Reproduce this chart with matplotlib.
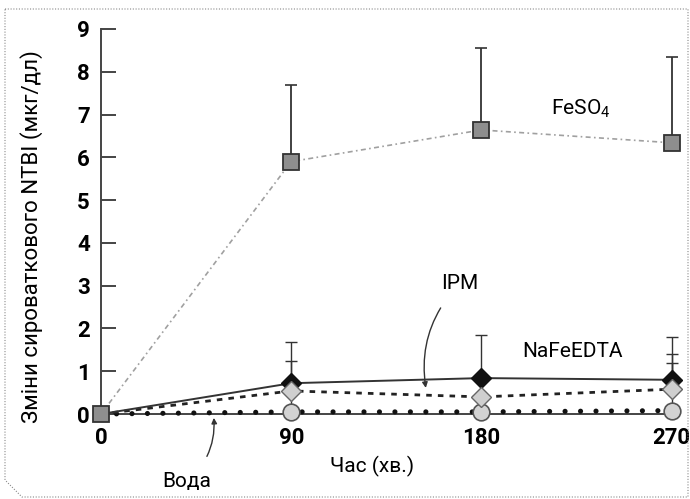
import matplotlib
matplotlib.use("Agg")
import matplotlib.pyplot as plt
from matplotlib.patches import Polygon
import numpy as np

plt.rcParams['font.family'] = ['Roboto', 'DejaVu Sans']
plt.rcParams['font.stretch'] = 'condensed'
plt.rcParams['mathtext.default'] = 'regular'

# дані
time = [0, 90, 180, 270]
feso4 = [0, 5.9, 6.64, 6.34]
feso4_top = [0, 7.7, 8.55, 8.34]
nafeedta = [0, 0.72, 0.84, 0.8]
nafeedta_top = [0, 1.69, 1.85, 1.79]
ipm = [0, 0.54, 0.4, 0.58]
ipm_top = [0, 1.23, 0.4, 1.41]
water = [0, 0.05, 0.05, 0.08]
water_top = [0, 0.5, 0.4, 1.2]
yticks = [0, 1, 2, 3, 4, 5, 6, 7, 8, 9]


def upper_err(vals, tops):
    vals = np.array(vals)
    return [np.zeros_like(vals), np.array(tops) - vals]


fig = plt.figure(figsize=(6.9, 4.99), dpi=100)
ax = fig.add_axes([0.1464, 0.1703, 0.8391, 0.7716])

ecol = '#333333'

# вода
ax.errorbar(time, water, yerr=upper_err(water, water_top), fmt='none',
            ecolor=ecol, elinewidth=1.0, capsize=4.5, capthick=1.0, zorder=2, clip_on=False)
ax.plot(time, water, color='#111111', linestyle=(0, (0.01, 3.0)), linewidth=3.7,
        dash_capstyle='round', zorder=3, clip_on=False)
ax.plot(time[1:], water[1:], 'o', color='#d3d3d3', markeredgecolor='#555555',
        markersize=12, markeredgewidth=1.2, zorder=6, clip_on=False)

# IPM
ax.errorbar(time, ipm, yerr=upper_err(ipm, ipm_top), fmt='none',
            ecolor=ecol, elinewidth=1.0, capsize=4.5, capthick=1.0, zorder=2, clip_on=False)
ax.plot(time, ipm, color='#222222', linestyle=(0, (2, 2.2)), linewidth=2.0,
        zorder=3, clip_on=False)
ax.plot(time[1:], ipm[1:], 'D', color='#cfcfcf', markeredgecolor='#666666',
        markersize=10, markeredgewidth=1.0, zorder=7, clip_on=False)

# NaFeEDTA
ax.errorbar(time, nafeedta, yerr=upper_err(nafeedta, nafeedta_top), fmt='none',
            ecolor=ecol, elinewidth=1.0, capsize=4.5, capthick=1.0, zorder=2, clip_on=False)
ax.plot(time, nafeedta, color='#333333', linestyle='-', linewidth=1.4,
        zorder=3, clip_on=False)
ax.plot(time[1:], nafeedta[1:], 'D', color='#111111', markeredgecolor='#111111',
        markersize=10, zorder=6, clip_on=False)

# FeSO4
ax.errorbar(time, feso4, yerr=upper_err(feso4, feso4_top), fmt='none',
            ecolor=ecol, elinewidth=1.3, capsize=4.5, capthick=1.2, zorder=2, clip_on=False)
ax.plot(time, feso4, color='#a0a0a0', linestyle=(0, (3, 2, 1, 2)), linewidth=1.2,
        zorder=3, clip_on=False)
ax.plot(time, feso4, 's', color='#8e8e8e', markeredgecolor='#333333',
        markersize=12, markeredgewidth=1.3, zorder=8, clip_on=False)

ax.set_xlim(0, 274)
ax.set_ylim(0, 9)
ax.set_yticks(yticks)
ax.set_xticks(time)
ax.set_yticklabels([str(t) for t in yticks], fontsize=16, fontweight='bold')
ax.set_xticklabels([str(t) for t in time], fontsize=16, fontweight='bold')
ax.tick_params(axis='y', direction='in', length=11, width=1.4, color='#444444', pad=8)
ax.tick_params(axis='x', length=0, pad=9)
for s in ['top', 'right']:
    ax.spines[s].set_visible(False)
for s in ['left', 'bottom']:
    ax.spines[s].set_color('#444444')
    ax.spines[s].set_linewidth(1.4)

ax.set_xlabel('Час (хв.)', fontsize=15)
ax.set_ylabel('Зміни сироваткового NTBI (мкг/дл)', fontsize=16)
ax.xaxis.set_label_coords(0.468, -0.11)
ax.yaxis.set_label_coords(-0.1, 0.46)

# підписи
ax.text(213, 7.14, 'FeSO$_4$', fontsize=15, ha='left', va='center')
ax.text(223, 1.45, 'NaFeEDTA', fontsize=15, ha='center', va='center')
ax.annotate('IPM', xy=(153.7, 0.61), xytext=(170, 3.06), fontsize=15,
            ha='center', va='center', annotation_clip=False,
            arrowprops=dict(arrowstyle='-|>', color='#333333', lw=1.0,
                            mutation_scale=8, shrinkA=11, shrinkB=0,
                            connectionstyle='arc3,rad=0.25'))
ax.annotate('Вода', xy=(53.4, -0.09), xytext=(40.7, -1.58), fontsize=15,
            ha='center', va='center', annotation_clip=False,
            arrowprops=dict(arrowstyle='-|>', color='#333333', lw=1.0,
                            mutation_scale=8, shrinkA=11, shrinkB=0,
                            connectionstyle='arc3,rad=0.25'))

# рамка
W, H = 690, 499
pts = [(5, 9), (688, 9), (688, 497), (22, 497), (5, 480)]
frame = Polygon([(x / W, 1 - y / H) for x, y in pts], closed=True, fill=False,
                edgecolor='#888888', linestyle=(0, (1, 1.5)), linewidth=0.8,
                transform=fig.transFigure)
fig.patches.append(frame)

fig.savefig('out.png', dpi=100)
